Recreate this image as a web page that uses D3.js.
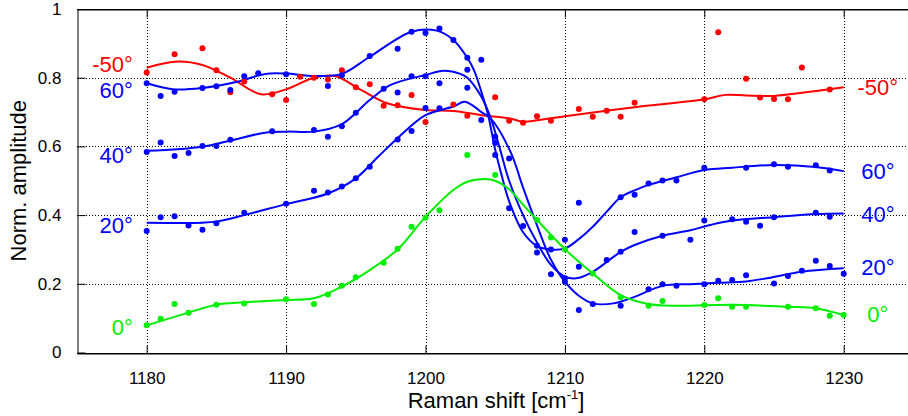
<!DOCTYPE html>
<meta charset="utf-8">
<style>
	body {
		margin:			0px;
		background:		white;
	}
	text {
		font-family:	"Liberation Sans", Arial, sans-serif;
	}
</style>
<body>
<script src="https://cdn.jsdelivr.net/npm/d3@7"></script>
<script>

	var ptsM50 = [[1180,0.815],[1182,0.868],[1184,0.886],[1185,0.822],[1186,0.758],[1187,0.789],[1189,0.752],[1190,0.735],
		[1191,0.803],[1192,0.800],[1193,0.795],[1194,0.822],[1195,0.772],[1196,0.781],[1197,0.718],[1198,0.720],[1199,0.750],
		[1200,0.671],[1202,0.722],[1203,0.689],[1205,0.743],[1206,0.675],[1207,0.669],[1208,0.688],[1209,0.675],[1211,0.709],
		[1212,0.686],[1213,0.704],[1214,0.686],[1215,0.727],[1220,0.737],[1221,0.932],[1223,0.797],[1224,0.742],[1225,0.738],
		[1226,0.737],[1227,0.830],[1229,0.766]];
	var pts60 = [[1180,0.784],[1181,0.747],[1182,0.759],[1184,0.770],[1185,0.775],[1186,0.764],[1187,0.804],[1188,0.813],
		[1190,0.810],[1193,0.776],[1194,0.807],[1196,0.863],[1198,0.884],[1199,0.934],[1200,0.930],[1201,0.943],[1202,0.910],
		[1203,0.858],[1204,0.852],[1205,0.575],[1206,0.420],[1207,0.368],[1208,0.311],[1209,0.300],[1210,0.328],[1211,0.436],
		[1214,0.452],[1215,0.459],[1216,0.492],[1217,0.501],[1218,0.501],[1220,0.538],[1223,0.538],[1225,0.548],[1226,0.541],
		[1228,0.545],[1229,0.530]];
	var pts40 = [[1180,0.584],[1181,0.611],[1182,0.572],[1183,0.581],[1184,0.601],[1185,0.601],[1186,0.619],[1189,0.644],
		[1192,0.648],[1193,0.628],[1194,0.659],[1195,0.698],[1197,0.768],[1198,0.757],[1199,0.804],[1200,0.804],[1201,0.784],
		[1203,0.823],[1205,0.610],[1208,0.291],[1210,0.216],[1211,0.250],[1213,0.269],[1214,0.293],[1215,0.351],[1217,0.340],
		[1219,0.328],[1220,0.384],[1222,0.388],[1223,0.381],[1224,0.369],[1225,0.394],[1228,0.407],[1229,0.395]];
	var pts20 = [[1180,0.354],[1181,0.394],[1182,0.397],[1183,0.370],[1184,0.357],[1185,0.376],[1187,0.407],[1190,0.433],
		[1192,0.471],[1193,0.466],[1194,0.483],[1195,0.507],[1196,0.541],[1198,0.620],[1199,0.645],[1200,0.712],[1201,0.711],
		[1203,0.771],[1204,0.677],[1205,0.628],[1206,0.565],[1209,0.228],[1210,0.206],[1211,0.124],[1212,0.141],[1214,0.136],
		[1216,0.184],[1217,0.199],[1218,0.194],[1220,0.199],[1221,0.209],[1222,0.211],[1223,0.225],[1225,0.201],[1226,0.223],
		[1227,0.238],[1228,0.267],[1229,0.252],[1230,0.229]];
	var pts0 = [[1180,0.079],[1181,0.098],[1182,0.141],[1183,0.116],[1185,0.139],[1187,0.143],[1190,0.155],[1192,0.141],
		[1193,0.169],[1194,0.194],[1195,0.219],[1197,0.261],[1198,0.302],[1199,0.366],[1200,0.392],[1201,0.414],[1203,0.575],
		[1205,0.517],[1208,0.386],[1209,0.335],[1210,0.300],[1212,0.230],[1214,0.161],[1216,0.136],[1217,0.150],[1220,0.138],
		[1221,0.158],[1222,0.133],[1223,0.133],[1226,0.133],[1228,0.129],[1229,0.107],[1230,0.109]];

	//Smoothed fit curves, sampled off the plot
	var fitM50 = [[1180,0.829],[1182.2,0.847],[1184,0.837],[1186,0.800],[1188.2,0.752],[1190,0.766],[1192,0.800],[1193.5,0.805],
		[1195.4,0.764],[1197.3,0.725],[1200,0.706],[1202,0.703],[1204,0.691],[1206,0.682],[1207,0.672],[1208,0.676],[1210,0.688],
		[1215,0.714],[1220,0.737],[1221.5,0.750],[1223,0.748],[1225,0.747],[1227,0.756],[1230,0.772]];
	var fit60 = [[1180,0.784],[1182,0.766],[1184,0.770],[1186.5,0.788],[1188.5,0.811],[1190,0.812],[1192,0.805],[1194,0.811],
		[1196,0.861],[1199,0.934],[1200.8,0.937],[1202,0.910],[1203,0.858],[1203.5,0.820],[1204,0.760],[1204.5,0.690],
		[1205,0.590],[1205.5,0.510],[1206,0.440],[1207,0.350],[1208,0.310],[1209,0.300],[1210,0.303],[1211,0.330],[1212,0.366],
		[1213,0.410],[1214,0.452],[1215,0.472],[1216,0.488],[1218,0.510],[1220,0.531],[1222,0.538],[1225,0.546],[1228,0.540],
		[1230,0.528]];
	var fit40 = [[1180,0.587],[1184,0.599],[1186,0.617],[1188.5,0.640],[1190,0.643],[1192,0.643],[1194,0.665],[1196,0.735],
		[1197.5,0.779],[1200,0.808],[1201.3,0.820],[1202.5,0.811],[1203,0.800],[1204,0.745],[1204.7,0.680],[1205.4,0.584],
		[1206,0.500],[1207,0.400],[1208,0.320],[1209,0.255],[1210,0.221],[1210.8,0.216],[1212,0.235],[1214,0.293],[1215,0.313],
		[1217,0.340],[1219,0.356],[1220.5,0.372],[1222,0.384],[1225,0.394],[1228,0.403],[1230,0.405]];
	var fit20 = [[1180,0.378],[1184,0.378],[1185,0.381],[1187,0.400],[1190,0.432],[1193,0.463],[1195,0.507],[1196.6,0.570],
		[1198,0.624],[1200,0.691],[1202,0.716],[1202.8,0.730],[1203.5,0.716],[1204,0.700],[1204.7,0.680],[1206.1,0.584],
		[1207,0.480],[1208,0.370],[1209,0.270],[1210,0.206],[1211,0.165],[1212,0.143],[1213.5,0.143],[1215,0.162],[1217,0.194],
		[1219,0.199],[1221,0.203],[1223,0.207],[1224.5,0.216],[1227,0.235],[1230,0.245]];
	var fit0 = [[1180,0.079],[1183,0.116],[1185,0.139],[1187,0.146],[1190,0.153],[1192,0.158],[1194,0.192],[1196,0.240],
		[1198,0.300],[1200,0.395],[1202,0.473],[1203,0.497],[1204.3,0.505],[1205,0.500],[1206,0.475],[1207,0.430],[1208,0.386],
		[1210,0.301],[1212,0.230],[1214,0.167],[1216,0.141],[1218,0.136],[1222,0.139],[1226,0.133],[1228,0.129],[1230,0.109]];

	//Series names and label positions (data units)
	var seriesNames = ["-50°", "60°", "40°", "20°", "0°"];
	var leftLabelY  = [0.817, 0.741, 0.552, 0.348, 0.051];
	var rightLabelY = [0.750, 0.505, 0.380, 0.226, 0.089];

	//Tick values
	var xTicks = [1180, 1190, 1200, 1210, 1220, 1230];
	var yTicks = [0, 0.2, 0.4, 0.6, 0.8, 1];

	var colors = ["#ff0000", "#0000ff", "#0000ff", "#0000ff", "#00ee00"];
	var series = [
		{name: seriesNames[0], pts: ptsM50, fit: fitM50, color: colors[0]},
		{name: seriesNames[1], pts: pts60,  fit: fit60,  color: colors[1]},
		{name: seriesNames[2], pts: pts40,  fit: fit40,  color: colors[2]},
		{name: seriesNames[3], pts: pts20,  fit: fit20,  color: colors[3]},
		{name: seriesNames[4], pts: pts0,   fit: fit0,   color: colors[4]}
	];

	var width = 908, height = 416;
	var plotLeft = 77, plotTop = 9, plotBottom = 352.5;

	var x = d3.scaleLinear().domain([1175, 1235]).range([plotLeft, plotLeft + 60 * 13.94]);
	var y = d3.scaleLinear().domain([0, 1]).range([plotBottom, plotTop]);

	var svg = d3.select("body").append("svg")
		.attr("width", width)
		.attr("height", height);

	//Dotted grid
	svg.append("g").selectAll("line")
		.data(xTicks)
		.enter()
		.append("line")
		.attr("x1", function(d) { return Math.round(x(d)) + 0.5; })
		.attr("x2", function(d) { return Math.round(x(d)) + 0.5; })
		.attr("y1", plotTop)
		.attr("y2", plotBottom)
		.attr("stroke", "#000")
		.attr("stroke-dasharray", "1,2")
		.attr("shape-rendering", "crispEdges");
	svg.append("g").selectAll("line")
		.data(yTicks.slice(1, 5))
		.enter()
		.append("line")
		.attr("x1", plotLeft)
		.attr("x2", width)
		.attr("y1", function(d) { return Math.round(y(d)) + 0.5; })
		.attr("y2", function(d) { return Math.round(y(d)) + 0.5; })
		.attr("stroke", "#000")
		.attr("stroke-dasharray", "1,2")
		.attr("shape-rendering", "crispEdges");

	//Axes with inner ticks
	var xAxis = d3.axisBottom(x).tickValues(xTicks).tickSizeInner(-8).tickSizeOuter(0).tickPadding(18)
		.tickFormat(d3.format("d"));
	var yAxis = d3.axisLeft(y).tickValues(yTicks).tickSizeInner(-8).tickSizeOuter(0).tickPadding(16)
		.tickFormat(d3.format("~g"));

	var gx = svg.append("g")
		.attr("transform", "translate(0," + (Math.round(plotBottom) + 0.5) + ")")
		.call(xAxis);
	var gy = svg.append("g")
		.attr("transform", "translate(" + (plotLeft + 0.5) + ",0)")
		.call(yAxis);
	svg.append("g")
		.attr("transform", "translate(0," + (Math.round(plotTop) + 0.5) + ")")
		.call(d3.axisTop(x).tickValues(xTicks).tickSizeInner(-8).tickSizeOuter(0).tickFormat(""));

	[gx, gy].forEach(function(g) {
		g.selectAll("text")
			.attr("font-family", "'Liberation Sans', Arial, sans-serif")
			.attr("font-size", "17px")
			.attr("fill", "#000");
	});
	svg.selectAll(".domain").attr("stroke", "#000");
	svg.selectAll(".tick line").attr("stroke", "#000");

	//Top and bottom frame lines across the image
	svg.append("line")
		.attr("x1", plotLeft).attr("x2", width)
		.attr("y1", Math.round(plotTop) + 0.5).attr("y2", Math.round(plotTop) + 0.5)
		.attr("stroke", "#000");
	svg.append("line")
		.attr("x1", plotLeft).attr("x2", width)
		.attr("y1", Math.round(plotBottom) + 0.5).attr("y2", Math.round(plotBottom) + 0.5)
		.attr("stroke", "#000");

	//Fit curves
	var line = d3.line()
		.x(function(d) { return x(d[0]); })
		.y(function(d) { return y(d[1]); })
		.curve(d3.curveCatmullRom.alpha(0.5));

	svg.append("g").selectAll("path")
		.data(series)
		.enter()
		.append("path")
		.attr("d", function(d) { return line(d.fit); })
		.attr("fill", "none")
		.attr("stroke", function(d) { return d.color; })
		.attr("stroke-width", 2);

	//Points
	series.forEach(function(s) {
		svg.append("g").selectAll("circle")
			.data(s.pts)
			.enter()
			.append("circle")
			.attr("cx", function(d) { return x(d[0]); })
			.attr("cy", function(d) { return y(d[1]); })
			.attr("r", 3)
			.attr("fill", s.color);
	});

	//Series labels on both sides
	svg.append("g").selectAll("text")
		.data(series)
		.enter()
		.append("text")
		.attr("x", x(1179))
		.attr("y", function(d, i) { return y(leftLabelY[i]); })
		.attr("text-anchor", "end")
		.attr("font-size", "22px")
		.attr("fill", function(d) { return d.color; })
		.text(function(d) { return d.name; });
	svg.append("g").selectAll("text")
		.data(series)
		.enter()
		.append("text")
		.attr("x", x(1232.45))
		.attr("y", function(d, i) { return y(rightLabelY[i]); })
		.attr("text-anchor", "middle")
		.attr("font-size", "22px")
		.attr("fill", function(d) { return d.color; })
		.text(function(d) { return d.name; });

	//Axis titles
	svg.append("text")
		.attr("transform", "translate(26," + ((plotTop + plotBottom) / 2) + ") rotate(-90)")
		.attr("text-anchor", "middle")
		.attr("font-size", "22px")
		.attr("fill", "#000")
		.text("Norm. amplitude");

	var xt = svg.append("text")
		.attr("x", 496)
		.attr("y", 408)
		.attr("text-anchor", "middle")
		.attr("font-size", "22px")
		.attr("fill", "#000");
	xt.append("tspan").text("Raman shift [cm");
	xt.append("tspan").attr("font-size", "13px").attr("dy", -9).text("-1");
	xt.append("tspan").attr("dy", 9).text("]");

</script>
</body>
